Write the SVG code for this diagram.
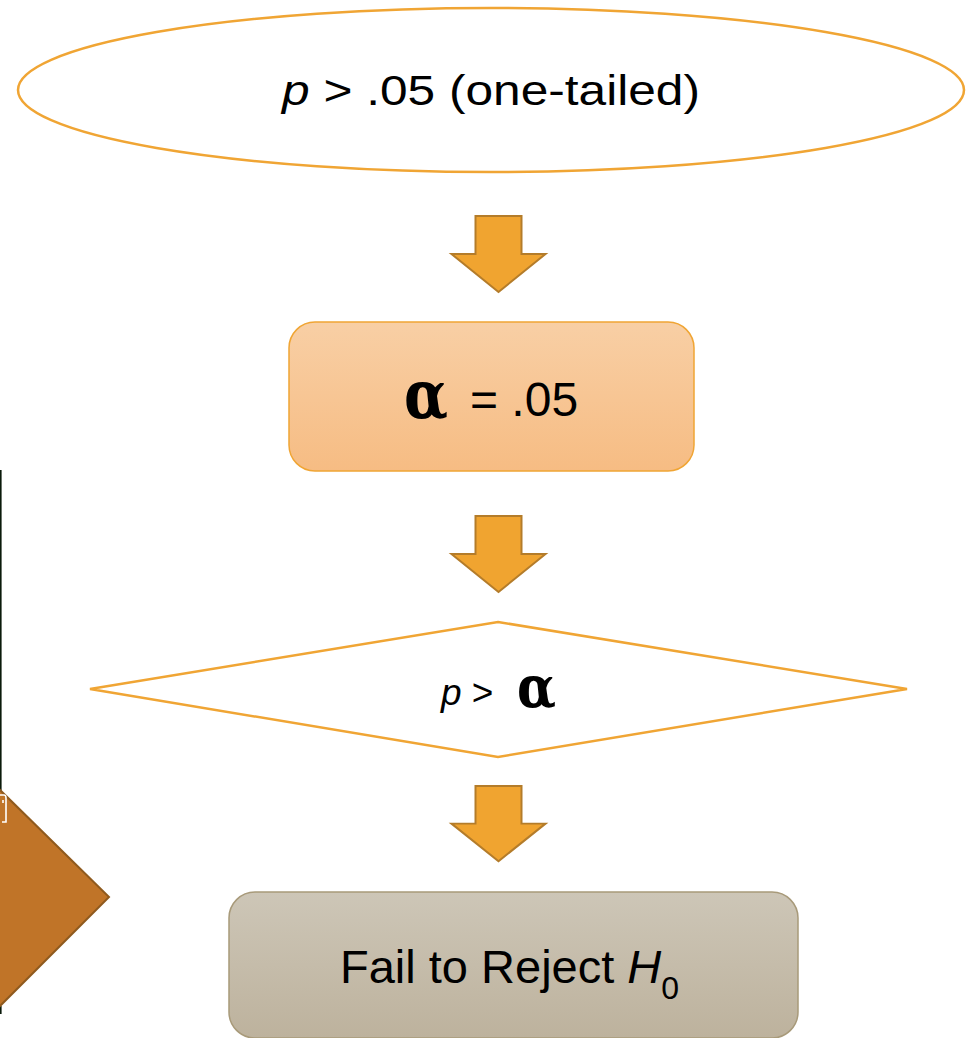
<svg xmlns="http://www.w3.org/2000/svg" width="973" height="1038" viewBox="0 0 973 1038">
  <defs>
    <linearGradient id="gradAlpha" x1="0" y1="0" x2="0" y2="1">
      <stop offset="0" stop-color="#F8CFA5"/>
      <stop offset="1" stop-color="#F6BC83"/>
    </linearGradient>
    <linearGradient id="gradResult" x1="0" y1="0" x2="0" y2="1">
      <stop offset="0" stop-color="#CDC6B7"/>
      <stop offset="1" stop-color="#BDB29D"/>
    </linearGradient>
    <polygon id="blockArrow" points="-23,0 23,0 23,38 47,38 0,76 -47,38 -23,38"/>
  </defs>
  <style>
    .outline { fill: #FFFFFF; stroke: #F0A534; stroke-width: 2.5; }
    .arrow { fill: #F0A430; stroke: #B47C2A; stroke-width: 2; }
    .label { font-family: "Liberation Sans", Arial, sans-serif; fill: #000000; }
    .greek { font-family: "DejaVu Serif", "Liberation Serif", serif; font-weight: bold; fill: #000000; }
  </style>

  <!-- partial shapes cut by the left edge -->
  <g id="edge-fragments">
    <rect x="0" y="470" width="1.6" height="322" fill="#0A1A0A"/>
    <rect x="0" y="1006" width="1.6" height="8" fill="#0A1A0A"/>
    <polygon points="-110,897 0,790 109,897 0,1006" fill="#C07428" stroke="#8F5A1E" stroke-width="2"/>
    <path d="M0,795 L4,795 Q6,795 6,798 L6,822 L2,822 M3,800 L3,803" fill="none" stroke="#FFFFFF" stroke-width="1.6"/>
  </g>

  <g id="start">
    <ellipse class="outline" cx="491" cy="90" rx="473" ry="82"/>
    <text class="label" x="491" y="105" font-size="42" text-anchor="middle" textLength="418" lengthAdjust="spacingAndGlyphs"><tspan font-style="italic">p</tspan> &gt; .05 (one-tailed)</text>
  </g>

  <g id="alpha">
    <rect x="289" y="322" width="405" height="149" rx="26" fill="url(#gradAlpha)" stroke="#F0A534" stroke-width="1.5"/>
    <text class="greek" x="404" y="418" font-size="68" textLength="44" lengthAdjust="spacingAndGlyphs">α</text>
    <text class="label" x="470" y="416" font-size="48">= .05</text>
  </g>

  <g id="decision">
    <polygon class="outline" points="498,622 907,689 498,757 90,689"/>
    <text class="label" x="441" y="705" font-size="37"><tspan font-style="italic">p</tspan> &gt;</text>
    <text class="greek" x="517" y="707" font-size="58" textLength="39" lengthAdjust="spacingAndGlyphs">α</text>
  </g>

  <g id="result">
    <rect x="229" y="892" width="569" height="146" rx="26" fill="url(#gradResult)" stroke="#A89A7A" stroke-width="1.5"/>
    <text class="label" x="340" y="983" font-size="47">Fail to Reject <tspan font-style="italic">H</tspan><tspan font-size="32" dy="16">0</tspan></text>
  </g>

  <g id="connectors">
    <use href="#blockArrow" class="arrow" x="498.5" y="216"/>
    <use href="#blockArrow" class="arrow" x="498.5" y="516"/>
    <use href="#blockArrow" class="arrow" transform="translate(498.5,786) scale(1,0.99)"/>
  </g>
</svg>
